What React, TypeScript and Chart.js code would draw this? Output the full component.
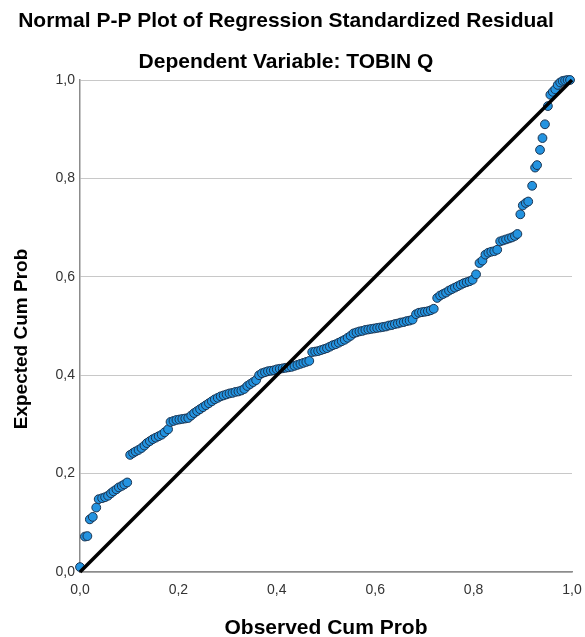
import React, { useEffect, useRef } from 'react';
import { Chart, registerables } from 'chart.js';

Chart.register(...registerables);

const titleText = 'Normal P-P Plot of Regression Standardized Residual';
const subtitleText = 'Dependent Variable: TOBIN Q';
const xAxisTitle = 'Observed Cum Prob';
const yAxisTitle = 'Expected Cum Prob';
const tickValues = [0, 0.2, 0.4, 0.6, 0.8, 1.0];

const observedCumProb = [
  0.000, 0.010, 0.015, 0.020, 0.026, 0.033, 0.038, 0.045, 0.051, 0.057, 0.063, 0.068, 0.074, 0.079, 0.085, 0.090, 0.096,
  0.102, 0.108, 0.113, 0.119, 0.125, 0.131, 0.136, 0.142, 0.148, 0.154, 0.160, 0.166, 0.172, 0.179,
  0.184, 0.190, 0.196, 0.202, 0.208, 0.214, 0.220, 0.226, 0.232, 0.238, 0.244, 0.250, 0.256, 0.262, 0.268, 0.274,
  0.280, 0.286, 0.292, 0.298, 0.304, 0.310, 0.316, 0.322, 0.328, 0.334, 0.340, 0.346, 0.352, 0.358, 0.364, 0.370,
  0.376, 0.382, 0.388, 0.394, 0.400, 0.406, 0.412, 0.418, 0.424, 0.430, 0.436, 0.442, 0.448, 0.454, 0.460, 0.466,
  0.472, 0.478, 0.484, 0.490, 0.496, 0.502, 0.508, 0.514, 0.520, 0.526, 0.532, 0.538, 0.544, 0.550, 0.556, 0.562,
  0.568, 0.574, 0.580, 0.586, 0.592, 0.598, 0.604, 0.610, 0.616, 0.622, 0.628, 0.634, 0.640, 0.646, 0.652, 0.658,
  0.664, 0.670, 0.676,
  0.683, 0.689, 0.695, 0.701, 0.707, 0.713, 0.719,
  0.726, 0.732, 0.738, 0.744, 0.750, 0.756, 0.762, 0.768, 0.774, 0.780, 0.786, 0.792, 0.798, 0.805,
  0.812, 0.818, 0.824, 0.830, 0.836, 0.842, 0.848, 0.854, 0.860, 0.866, 0.872, 0.878, 0.884, 0.889, 0.895, 0.900,
  0.906, 0.911, 0.919, 0.925, 0.929, 0.935, 0.940, 0.945, 0.951, 0.956, 0.961, 0.966, 0.971, 0.976, 0.981, 0.986,
  0.991, 0.996,
];

const expectedCumProb = [
  0.010, 0.072, 0.073, 0.107, 0.112, 0.131, 0.148, 0.150, 0.152, 0.155, 0.160, 0.164, 0.168, 0.172, 0.175, 0.178, 0.182,
  0.238, 0.242, 0.245, 0.248, 0.252, 0.257, 0.262, 0.266, 0.270, 0.273, 0.276, 0.279, 0.284, 0.290,
  0.305, 0.307, 0.309, 0.310, 0.311, 0.312, 0.313, 0.318, 0.323, 0.327, 0.331, 0.335, 0.339, 0.343, 0.347, 0.351,
  0.354, 0.357, 0.359, 0.361, 0.363, 0.364, 0.366, 0.367, 0.369, 0.372, 0.378, 0.382, 0.386, 0.390, 0.400, 0.404,
  0.406, 0.408, 0.409, 0.410, 0.412, 0.413, 0.414, 0.415, 0.416, 0.417, 0.419, 0.421, 0.423, 0.425, 0.427, 0.429,
  0.447, 0.448, 0.449, 0.451, 0.453, 0.455, 0.458, 0.461, 0.463, 0.466, 0.469, 0.472, 0.476, 0.480, 0.485, 0.487,
  0.489, 0.490, 0.492, 0.493, 0.494, 0.495, 0.496, 0.497, 0.498, 0.499, 0.501, 0.502, 0.504, 0.505, 0.507, 0.508,
  0.510, 0.511, 0.513,
  0.524, 0.527, 0.528, 0.529, 0.530, 0.532, 0.535,
  0.557, 0.562, 0.565, 0.568, 0.572, 0.575, 0.578, 0.581, 0.584, 0.587, 0.589, 0.591, 0.594, 0.605,
  0.628, 0.633, 0.645, 0.649, 0.651, 0.652, 0.655, 0.672, 0.674, 0.676, 0.678, 0.680, 0.683, 0.687, 0.727, 0.745,
  0.750, 0.753, 0.785, 0.822, 0.827, 0.858, 0.882, 0.910, 0.947, 0.970, 0.976, 0.981, 0.990, 0.995, 0.998, 0.999,
  1.000, 1.000,
];

const referenceLineX = [0, 1];
const referenceLineY = [0, 1];

const FONT = "'Liberation Sans', Arial, sans-serif";
const fmt = (v: number | string) => Number(v).toFixed(1).replace('.', ',');

const yTitlePlugin = {
  id: 'yTitlePlugin',
  afterDraw(chart: any) {
    const { ctx, chartArea } = chart;
    ctx.save();
    ctx.translate(22, (chartArea.top + chartArea.bottom) / 2 + 13);
    ctx.rotate(-Math.PI / 2);
    ctx.textAlign = 'center';
    ctx.textBaseline = 'middle';
    ctx.fillStyle = '#000';
    ctx.font = `bold 19px ${FONT}`;
    ctx.fillText(yAxisTitle, 0, 0);
    ctx.restore();
  },
};

export default function App() {
  const canvasRef = useRef<HTMLCanvasElement | null>(null);

  useEffect(() => {
    if (!canvasRef.current) return;
    const points = observedCumProb.map((x, i) => ({ x, y: expectedCumProb[i] }));
    const refLine = referenceLineX.map((x, i) => ({ x, y: referenceLineY[i] }));

    const chart = new Chart(canvasRef.current, {
      type: 'scatter',
      data: {
        datasets: [
          {
            type: 'line',
            data: refLine,
            borderColor: '#000000',
            borderWidth: 3.5,
            pointRadius: 0,
            fill: false,
            order: 0,
            clip: false,
          } as any,
          {
            data: points,
            backgroundColor: '#2393e0',
            borderColor: '#1a3350',
            borderWidth: 1,
            pointRadius: 4.4,
            order: 1,
            clip: false,
          } as any,
        ],
      },
      options: {
        animation: false,
        responsive: false,
        events: [],
        layout: { padding: { left: 0, right: 13, top: 0, bottom: 0 } },
        plugins: {
          legend: { display: false },
          tooltip: { enabled: false },
          title: {
            display: true,
            text: titleText,
            color: '#000',
            font: { family: FONT, size: 21, weight: 'bold' },
            padding: { top: 8.4, bottom: 8 },
          },
          subtitle: {
            display: true,
            text: subtitleText,
            color: '#000',
            font: { family: FONT, size: 21, weight: 'bold' },
            padding: { top: 7.8, bottom: 5.4 },
          },
        },
        scales: {
          x: {
            type: 'linear',
            min: 0,
            max: 1,
            afterBuildTicks: (axis: any) => {
              axis.ticks = tickValues.map((v) => ({ value: v }));
            },
            afterFit: (scale: any) => {
              scale.height = 65;
              scale.paddingRight = 0;
              scale.paddingLeft = 0;
            },
            grid: { display: false, drawTicks: false },
            border: { display: true, color: '#8c8c8c', width: 1.5 },
            ticks: {
              padding: 10,
              color: '#333',
              font: { family: FONT, size: 14 },
              callback: (v: any) => fmt(v),
              maxRotation: 0,
            },
            title: {
              display: true,
              text: xAxisTitle,
              color: '#000',
              font: { family: FONT, size: 21, weight: 'bold', lineHeight: 0.8 },
              padding: { top: 0, bottom: 0 },
            },
          },
          y: {
            type: 'linear',
            min: 0,
            max: 1,
            afterBuildTicks: (axis: any) => {
              axis.ticks = tickValues.map((v) => ({ value: v }));
            },
            afterFit: (scale: any) => {
              scale.width = 80;
            },
            grid: { display: true, color: '#c8c8c8', lineWidth: 1, drawTicks: false },
            border: { display: true, color: '#8c8c8c', width: 1.5 },
            ticks: {
              padding: 5,
              color: '#333',
              font: { family: FONT, size: 14 },
              callback: (v: any) => fmt(v),
            },
            title: { display: false },
          },
        },
      } as any,
      plugins: [yTitlePlugin],
    });

    return () => chart.destroy();
  }, []);

  return (
    <div style={{ position: 'fixed', left: 0, top: 0, width: 585, height: 637, background: '#fff' }}>
      <canvas ref={canvasRef} width={585} height={637} style={{ width: 585, height: 637, display: 'block' }} />
    </div>
  );
}
